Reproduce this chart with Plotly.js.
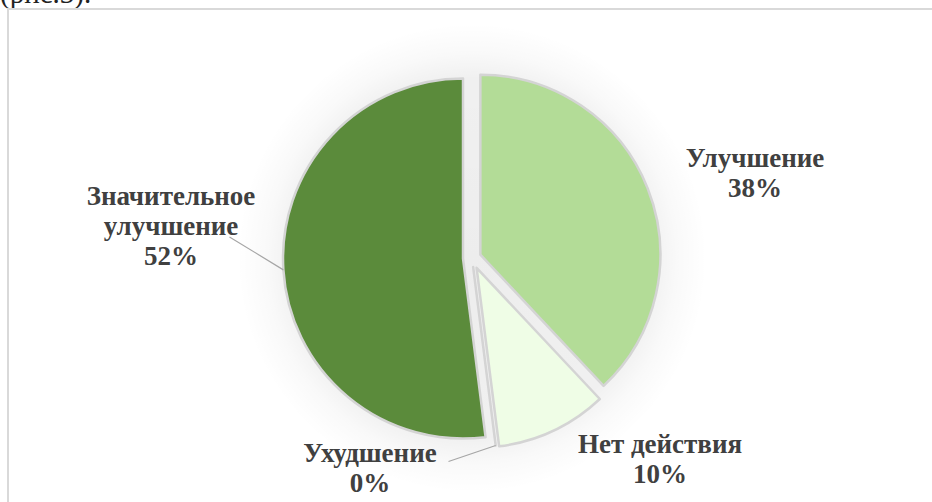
<!DOCTYPE html>
<html>
<head>
<meta charset="utf-8">
<script src="https://cdn.plot.ly/plotly-3.0.1.min.js"></script>
<style>
  html, body { margin: 0; padding: 0; background: #ffffff; width: 932px; height: 502px; overflow: hidden; }
  #caption { position: absolute; left: 0; top: -21px; font-family: "Liberation Serif", "Times New Roman", serif; font-size: 29px; line-height: 29px; color: #222; white-space: nowrap; }
  #frame { position: absolute; left: 7px; top: 8px; width: 1000px; height: 600px; border: 2px solid #d9d9d9; box-sizing: border-box; }
  #glow { position: absolute; left: 0; top: 0; width: 932px; height: 502px;
    background: radial-gradient(circle at 472px 258px, rgba(0,0,0,0.07) 0px, rgba(0,0,0,0.06) 180px, rgba(0,0,0,0.025) 205px, rgba(0,0,0,0) 235px); }
  #chart { position: absolute; left: 0; top: 0; width: 932px; height: 502px; }
  .lbl { position: absolute; transform: translate(-50%, -50%); text-align: center; white-space: nowrap;
    font-family: "Liberation Serif", "Times New Roman", serif; font-weight: bold; font-size: 27px; line-height: 30px; color: #404040; }
</style>
</head>
<body>
<div id="caption">(рис.3).</div>
<div id="frame"></div>
<div id="glow"></div>
<div id="chart"></div>
<script>
// ---- data ----
var labels = ["Улучшение", "Нет действия", "Ухудшение", "Значительное улучшение"];
var values = [38, 10, 0, 52];
var colors = ["#b3dc97", "#effde6", "#9bbb59", "#5b8b3b"];
var pulls  = [0.05, 0.06, 0.05, 0.05];

// ---- layout constants (pixels) ----
var W = 932, H = 502;
var CX = 472, CY = 258, R = 180;
var maxPull = Math.max.apply(null, pulls);
var half = R * (1 + maxPull);

// label block centres (pixels), line-wrapping and optional leader-line start points
var labelPos = [
  {x: 755, y: 173},
  {x: 660, y: 459},
  {x: 370, y: 468},
  {x: 171, y: 226}
];
var wrapLabel = [false, false, false, true];
var leaderStart = [null, null, {x: 447, y: 462}, {x: 228, y: 236}];

var total = values.reduce(function (a, b) { return a + b; }, 0);
var pct = values.map(function (v) { return Math.round(v / total * 100); });

function px2paperX(x) { return x / W; }
function px2paperY(y) { return 1 - y / H; }

// data labels (real text, Times-like bold serif)
labels.forEach(function (l, i) {
  var d = document.createElement('div');
  d.className = 'lbl';
  d.style.left = labelPos[i].x + 'px';
  d.style.top = labelPos[i].y + 'px';
  var shown = wrapLabel[i] ? l.split(' ').join('<br>') : l;
  d.innerHTML = shown + '<br>' + pct[i] + '%';
  document.body.appendChild(d);
});

// leader lines from labels to slice mid-angles
var annotations = [];
var cum = 0;
values.forEach(function (v, i) {
  var mid = 2 * Math.PI * (cum + v / 2) / total;
  cum += v;
  if (!leaderStart[i]) return;
  var tipX = CX + (1 + pulls[i]) * R * Math.sin(mid);
  var tipY = CY - (1 + pulls[i]) * R * Math.cos(mid);
  annotations.push({
    xref: 'paper', yref: 'paper',
    x: px2paperX(tipX), y: px2paperY(tipY),
    ax: leaderStart[i].x - tipX, ay: leaderStart[i].y - tipY,
    text: '', showarrow: true, arrowhead: 0, arrowwidth: 1.2,
    arrowcolor: '#a6a6a6', standoff: 0, startstandoff: 0
  });
});

var trace = {
  type: 'pie',
  labels: labels,
  values: values,
  sort: false,
  direction: 'clockwise',
  rotation: 0,
  pull: pulls,
  textinfo: 'none',
  hoverinfo: 'label+percent',
  marker: {colors: colors, line: {color: '#d4d4d4', width: 2.5}},
  domain: {
    x: [px2paperX(CX - half), px2paperX(CX + half)],
    y: [px2paperY(CY + half), px2paperY(CY - half)]
  },
  showlegend: false
};

var layout = {
  width: W, height: H,
  margin: {l: 0, r: 0, t: 0, b: 0},
  paper_bgcolor: 'rgba(0,0,0,0)',
  plot_bgcolor: 'rgba(0,0,0,0)',
  showlegend: false,
  annotations: annotations
};

Plotly.newPlot('chart', [trace], layout, {displayModeBar: false, staticPlot: true});
</script>
</body>
</html>
